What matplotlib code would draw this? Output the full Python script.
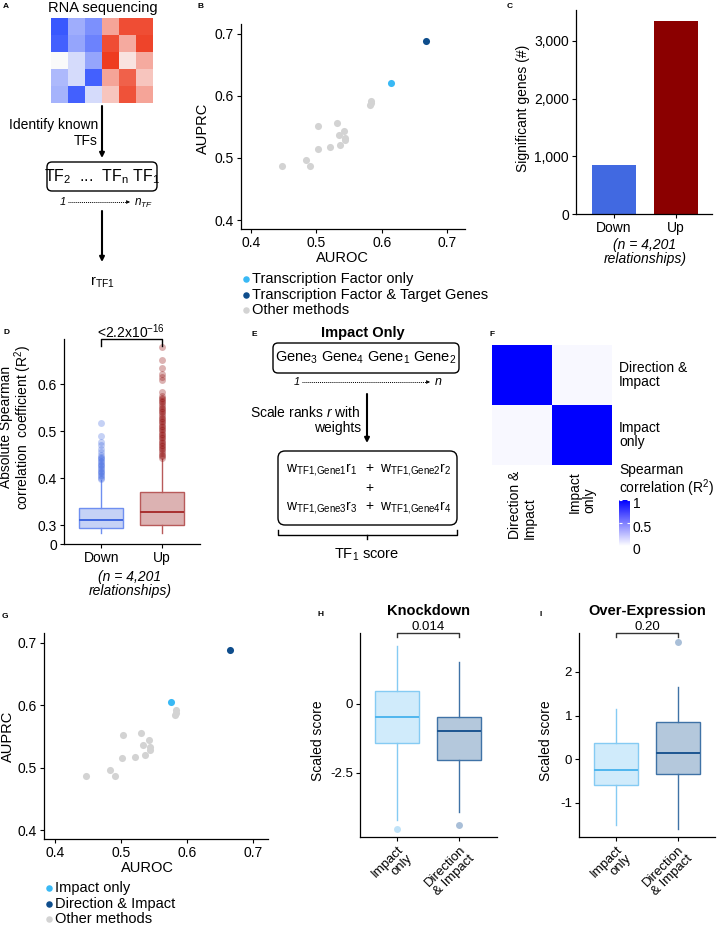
import matplotlib
matplotlib.use('Agg')
import matplotlib.pyplot as plt
import matplotlib.transforms as mtransforms
from matplotlib.patches import FancyBboxPatch
from matplotlib.colors import LinearSegmentedColormap

plt.rcParams['font.family'] = ['Liberation Sans', 'DejaVu Sans']
plt.rcParams['mathtext.fontset'] = 'custom'
plt.rcParams['mathtext.rm'] = 'Liberation Sans'
plt.rcParams['mathtext.it'] = 'Liberation Sans:italic'
plt.rcParams['mathtext.bf'] = 'Liberation Sans:bold'
plt.rcParams['axes.unicode_minus'] = False

W, H = 717, 926

# ---- data ----
rna_heat = [
    [-0.95, -0.45, -0.62, 0.45, 0.90, 0.90],
    [-0.90, -0.50, -0.70, 0.90, 0.42, 0.95],
    [0.00, -0.18, -0.50, 1.00, 0.12, 0.42],
    [-0.38, -0.18, -0.90, 0.45, 0.80, 0.28],
    [-0.42, -0.90, -0.18, 0.28, 0.88, 0.45],
]

other_auroc = [0.447, 0.484, 0.491, 0.502, 0.503, 0.521, 0.531, 0.534, 0.536, 0.542, 0.544, 0.544, 0.583, 0.583, 0.582]
other_auprc = [0.487, 0.496, 0.487, 0.515, 0.552, 0.517, 0.556, 0.537, 0.521, 0.544, 0.533, 0.529, 0.592, 0.588, 0.585]
b_tf_only = [0.614, 0.621]
b_tf_target = [0.668, 0.689]
g_impact_only = [0.575, 0.605]
g_dir_impact = [0.665, 0.689]

sig_groups = ['Down', 'Up']
sig_counts = [849, 3350]

down_stats = dict(q1=0.294, med=0.311, q3=0.336, whislo=0.283, whishi=0.396)
down_fliers = [0.517, 0.489, 0.478, 0.470, 0.462, 0.455, 0.450, 0.446, 0.443, 0.440, 0.437,
               0.434, 0.431, 0.428, 0.425, 0.422, 0.419, 0.416, 0.413, 0.410, 0.407, 0.404,
               0.401, 0.399]
up_stats = dict(q1=0.300, med=0.329, q3=0.370, whislo=0.283, whishi=0.440)
up_fliers = [0.443, 0.447, 0.450, 0.454, 0.457, 0.461, 0.464, 0.468, 0.471, 0.474, 0.478,
             0.481, 0.485, 0.488, 0.491, 0.495, 0.498, 0.502, 0.505, 0.508, 0.512, 0.515,
             0.519, 0.522, 0.526, 0.529, 0.533, 0.536, 0.540, 0.543, 0.547, 0.550, 0.554,
             0.557, 0.561, 0.564, 0.568, 0.571, 0.575, 0.584, 0.609, 0.616, 0.622, 0.634,
             0.652, 0.678]

corr_methods = ['Direction &\nImpact', 'Impact\nonly']
corr_matrix = [[1.0, 0.03], [0.03, 1.0]]

score_groups = ['Impact\nonly', 'Direction\n& Impact']
kd_stats = [dict(q1=-1.43, med=-0.46, q3=0.47, whislo=-4.22, whishi=2.12, fliers=[-4.54]),
            dict(q1=-2.04, med=-0.98, q3=-0.46, whislo=-3.92, whishi=1.52, fliers=[-4.42])]
oe_stats = [dict(q1=-0.60, med=-0.24, q3=0.38, whislo=-1.50, whishi=1.14, fliers=[]),
            dict(q1=-0.34, med=0.14, q3=0.85, whislo=-1.59, whishi=1.66, fliers=[2.68])]

# ---- figure ----
fig = plt.figure(figsize=(W / 100, H / 100), dpi=100)
ov = fig.add_axes([0, 0, 1, 1])
ov.set_xlim(0, W)
ov.set_ylim(H, 0)
ov.axis('off')


def px_axes(x0, y0, x1, y1):
    ax = fig.add_axes([x0 / W, 1 - y1 / H, (x1 - x0) / W, (y1 - y0) / H])
    ax.set_facecolor('none')
    return ax


def style(ax, size=10):
    for s in ['top', 'right']:
        ax.spines[s].set_visible(False)
    for s in ['left', 'bottom']:
        ax.spines[s].set_linewidth(0.9)
    ax.tick_params(length=3, width=0.8, labelsize=size, pad=2)


def arrow(x, y0, y1, lw=1.5):
    ov.annotate('', xy=(x, y1), xytext=(x, y0),
                arrowprops=dict(arrowstyle='-|>', lw=lw, color='black', mutation_scale=7,
                                shrinkA=0, shrinkB=0))


def dotted_arrow(x0, x1, y):
    ov.plot([x0, x1 - 3], [y, y], color='black', lw=0.7, ls=(0, (1, 1)))
    ov.annotate('', xy=(x1, y), xytext=(x1 - 3, y),
                arrowprops=dict(arrowstyle='-|>', lw=0.5, color='black', mutation_scale=5,
                                shrinkA=0, shrinkB=0))


def rbox(x0, y0, x1, y1, r=5):
    ov.add_patch(FancyBboxPatch((x0, y0), x1 - x0, y1 - y0,
                                boxstyle='round,pad=0,rounding_size=%d' % r,
                                fc='none', ec='black', lw=1.0))


for x, y, s in [(3, 7, 'A'), (197, 7, 'B'), (507, 7, 'C'), (3, 332, 'D'), (252, 334, 'E'),
                (490, 334, 'F'), (2, 616, 'G'), (317, 614, 'H'), (539, 615, 'I')]:
    ov.text(x, y, s, fontsize=6, fontweight='bold', ha='left', va='center')

# ---- A ----
ov.text(103, 8, 'RNA sequencing', fontsize=10.5, ha='center', va='center')
axa = px_axes(51, 18, 153, 103)
cm_rb = LinearSegmentedColormap.from_list('rb', ['#3050ff', '#fbfbfb', '#ee3c20'])
axa.imshow(rna_heat, cmap=cm_rb, vmin=-1, vmax=1, aspect='auto', interpolation='nearest')
axa.axis('off')
arrow(102, 106, 158)
ov.text(98, 133, 'Identify known\nTFs', ha='right', va='center', multialignment='right',
        fontsize=10, linespacing=1.1)
rbox(47, 162, 157, 191, r=5)
ov.text(102, 177, r'TF$_2$  ...  TF$_{\rm n}$ TF$_1$', ha='center', va='center', fontsize=11.5)
ov.text(63, 202, '1', style='italic', fontsize=8, ha='center', va='center')
dotted_arrow(68, 130, 202)
ov.text(134, 203, r'$n_{TF}$', fontsize=8.5, ha='left', va='center')
arrow(102, 211, 262)
ov.text(102, 282, r'r$_{\rm TF1}$', fontsize=10.5, ha='center', va='center')

# ---- B ----
axb = px_axes(241, 24, 465, 229)
style(axb)
axb.scatter(other_auroc, other_auprc, s=26, color='#d3d3d3', linewidths=0, zorder=2)
axb.scatter([b_tf_only[0]], [b_tf_only[1]], s=26, color='#39b9f5', linewidths=0, zorder=3)
axb.scatter([b_tf_target[0]], [b_tf_target[1]], s=26, color='#0e4d8c', linewidths=0, zorder=3)
axb.set_xlim(0.385, 0.727)
axb.set_ylim(0.3855, 0.716)
axb.set_xticks([0.4, 0.5, 0.6, 0.7])
axb.set_yticks([0.4, 0.5, 0.6, 0.7])
ov.text(342, 258, 'AUROC', fontsize=10.5, ha='center', va='center')
ov.text(203, 128, 'AUPRC', fontsize=10.5, ha='center', va='center', rotation=90)
for yy, col, lab in [(279, '#39b9f5', 'Transcription Factor only'),
                     (295, '#0e4d8c', 'Transcription Factor & Target Genes'),
                     (310, '#d3d3d3', 'Other methods')]:
    ov.scatter([246], [yy], s=22, color=col, linewidths=0)
    ov.text(252, yy, lab, fontsize=10.5, ha='left', va='center')

# ---- C ----
axc = px_axes(576, 10, 712, 214)
style(axc)
axc.bar(range(len(sig_groups)), sig_counts, width=0.7, color=['#4169e1', '#8b0000'], linewidth=0)
axc.set_xlim(-0.61, 1.58)
axc.set_ylim(0, 3537)
axc.set_yticks([0, 1000, 2000, 3000])
axc.set_yticklabels(['0', '1,000', '2,000', '3,000'])
axc.set_xticks(range(len(sig_groups)))
axc.set_xticklabels(sig_groups)
ov.text(523, 108, 'Significant genes (#)', fontsize=10, ha='center', va='center', rotation=90)
ov.text(645, 252, '(n = 4,201\nrelationships)', fontsize=10, style='italic', ha='center',
        va='center', multialignment='center', linespacing=1.05)

# ---- D ----
axd = px_axes(64, 339, 200, 544)
style(axd)
d_cols = [('#c6d2f6', '#6f8ff0', '#4169e1', '#4169e1'), ('#dcb2b2', '#b85a5a', '#a83030', '#8b0000')]
for i, (st, fl) in enumerate([(down_stats, down_fliers), (up_stats, up_fliers)]):
    fill, edge, med, fcol = d_cols[i]
    s = dict(st)
    s['fliers'] = fl
    axd.bxp([s], positions=[i], widths=0.72, patch_artist=True, showcaps=False,
            boxprops=dict(facecolor=fill, edgecolor=edge, linewidth=1.0),
            medianprops=dict(color=med, linewidth=1.4),
            whiskerprops=dict(color=edge, linewidth=1.0),
            flierprops=dict(marker='o', markerfacecolor=fcol, markeredgecolor='none',
                            alpha=0.3, markersize=5))
axd.set_xlim(-0.61, 1.62)
axd.set_ylim(0.26, 0.696)
axd.set_yticks([0.26, 0.3, 0.4, 0.5, 0.6])
axd.set_yticklabels(['0', '0.3', '0.4', '0.5', '0.6'])
axd.set_xticks([0, 1])
axd.set_xticklabels(sig_groups)
axd.plot([0, 0, 1, 1], [0.682, 0.695, 0.695, 0.682], color='black', lw=1.0, clip_on=False)
ov.text(131, 332, r'<2.2x10$^{-16}$', fontsize=10, ha='center', va='center')
ov.text(16.5, 427, 'Absolute Spearman\ncorrelation  coefficient (R$^2$)', fontsize=10,
        ha='center', va='center', rotation=90, multialignment='center', linespacing=1.0)
ov.text(130, 584, '(n = 4,201\nrelationships)', fontsize=10, style='italic', ha='center',
        va='center', multialignment='center', linespacing=1.05)

# ---- E ----
ov.text(363, 333, 'Impact Only', fontsize=10.5, fontweight='bold', ha='center', va='center')
rbox(273, 343, 459, 373, r=5)
ov.text(366, 358, r'Gene$_3$ Gene$_4$ Gene$_1$ Gene$_2$', fontsize=10.5, ha='center', va='center')
ov.text(297, 382, '1', style='italic', fontsize=8, ha='center', va='center')
dotted_arrow(302, 430, 382)
ov.text(438, 382, 'n', style='italic', fontsize=9, ha='center', va='center')
arrow(367, 394, 443)
ov.text(361, 420, 'Scale ranks $r$ with\nweights', fontsize=10, ha='right', va='center',
        multialignment='right', linespacing=1.1)
rbox(278, 451, 457, 525, r=7)
ov.text(357, 470, r'w$_{\rm TF1{,}Gene1}$r$_1$', fontsize=10, ha='right', va='center')
ov.text(369, 468, '+', fontsize=10, ha='center', va='center')
ov.text(380, 470, r'w$_{\rm TF1{,}Gene2}$r$_2$', fontsize=10, ha='left', va='center')
ov.text(369, 488, '+', fontsize=10, ha='center', va='center')
ov.text(357, 508, r'w$_{\rm TF1{,}Gene3}$r$_3$', fontsize=10, ha='right', va='center')
ov.text(369, 506, '+', fontsize=10, ha='center', va='center')
ov.text(380, 508, r'w$_{\rm TF1{,}Gene4}$r$_4$', fontsize=10, ha='left', va='center')
ov.plot([278, 278, 457, 457], [530, 535, 535, 530], color='black', lw=1.0)
ov.plot([367, 367], [535, 539], color='black', lw=1.0)
ov.text(367, 555, r'TF$_1$ score', fontsize=10.5, ha='center', va='center')

# ---- F ----
axf = px_axes(492, 345, 612, 465)
cm_wb = LinearSegmentedColormap.from_list('wb', ['#ffffff', '#0000ff'])
im = axf.imshow(corr_matrix, cmap=cm_wb, vmin=0, vmax=1, aspect='auto', interpolation='nearest')
axf.axis('off')
ov.text(619, 375, corr_methods[0], fontsize=10, ha='left', va='center', multialignment='left',
        linespacing=1.05)
ov.text(619, 435, corr_methods[1], fontsize=10, ha='left', va='center', multialignment='left',
        linespacing=1.05)
ov.text(522, 471, corr_methods[0], fontsize=10, ha='center', va='top', rotation=90,
        multialignment='left', linespacing=1.05)
ov.text(582, 471, corr_methods[1], fontsize=10, ha='center', va='top', rotation=90,
        multialignment='left', linespacing=1.05)
ov.text(619, 481, 'Spearman\ncorrelation (R$^2$)', fontsize=10, ha='left', va='center',
        multialignment='left', linespacing=1.0)
cax = px_axes(619, 500, 630, 546)
cb = fig.colorbar(im, cax=cax, ticks=[0, 0.5, 1])
cb.outline.set_visible(False)
cax.set_yticklabels(['0', '0.5', '1'])
cax.tick_params(direction='in', colors='white', length=2.5, width=0.8, left=True, right=True,
                labelright=True, labelleft=False, labelcolor='black', labelsize=10, pad=2)
shift = mtransforms.ScaledTranslation(0, -3 / 100, fig.dpi_scale_trans)
for lab in cax.get_yticklabels():
    lab.set_transform(lab.get_transform() + shift)

# ---- G ----
axg = px_axes(44, 633, 268, 839)
style(axg)
axg.scatter(other_auroc, other_auprc, s=26, color='#d3d3d3', linewidths=0, zorder=2)
axg.scatter([g_impact_only[0]], [g_impact_only[1]], s=26, color='#39b9f5', linewidths=0, zorder=3)
axg.scatter([g_dir_impact[0]], [g_dir_impact[1]], s=26, color='#0e4d8c', linewidths=0, zorder=3)
axg.set_xlim(0.3833, 0.7227)
axg.set_ylim(0.3856, 0.716)
axg.set_xticks([0.4, 0.5, 0.6, 0.7])
axg.set_yticks([0.4, 0.5, 0.6, 0.7])
ov.text(147, 868, 'AUROC', fontsize=10.5, ha='center', va='center')
ov.text(8, 736, 'AUPRC', fontsize=10.5, ha='center', va='center', rotation=90)
for yy, col, lab in [(888, '#39b9f5', 'Impact only'),
                     (904, '#0e4d8c', 'Direction & Impact'),
                     (919, '#d3d3d3', 'Other methods')]:
    ov.scatter([49], [yy], s=22, color=col, linewidths=0)
    ov.text(55, yy, lab, fontsize=10.5, ha='left', va='center')

# ---- H, I ----
hi_cols = [('#d0ebfb', '#85cbf3', '#4fb6ee', '#bfe2f8'), ('#b4c8dc', '#3f72a6', '#1c5590', '#a9bfd8')]


def score_box(ax, stats):
    for i, st in enumerate(stats):
        fill, edge, med, fcol = hi_cols[i]
        ax.bxp([st], positions=[i], widths=0.71, patch_artist=True, showcaps=False,
               boxprops=dict(facecolor=fill, edgecolor=edge, linewidth=1.0),
               medianprops=dict(color=med, linewidth=1.4),
               whiskerprops=dict(color=edge, linewidth=1.0),
               flierprops=dict(marker='o', markerfacecolor=fcol, markeredgecolor='none',
                               markersize=5))
    ax.set_xticks([0, 1])
    ax.set_xticklabels(score_groups, rotation=45, ha='right', va='top', rotation_mode='anchor',
                       multialignment='right', linespacing=1.05)


axh = px_axes(360, 633, 497, 837)
style(axh, 9.5)
score_box(axh, kd_stats)
axh.set_xlim(-0.6, 1.61)
axh.set_ylim(-4.84, 2.58)
axh.set_yticks([-2.5, 0])
axh.set_yticklabels(['-2.5', '0'])
axh.plot([0, 0, 1, 1], [2.44, 2.58, 2.58, 2.44], color='#333333', lw=1.0, clip_on=False)
ov.text(428, 627, '0.014', fontsize=9.5, ha='center', va='center')
ov.text(428, 611, 'Knockdown', fontsize=10.5, fontweight='bold', ha='center', va='center')
ov.text(318, 741, 'Scaled score', fontsize=10, ha='center', va='center', rotation=90)

axi = px_axes(579, 633, 715, 837)
style(axi, 9.5)
score_box(axi, oe_stats)
axi.set_xlim(-0.6, 1.6)
axi.set_ylim(-1.78, 2.89)
axi.set_yticks([-1, 0, 1, 2])
axi.plot([0, 0, 1, 1], [2.79, 2.88, 2.88, 2.79], color='#333333', lw=1.0, clip_on=False)
ov.text(647, 627, '0.20', fontsize=9.5, ha='center', va='center')
ov.text(647, 611, 'Over-Expression', fontsize=10.5, fontweight='bold', ha='center', va='center')
ov.text(546, 741, 'Scaled score', fontsize=10, ha='center', va='center', rotation=90)

fig.savefig('out.png', dpi=100)
